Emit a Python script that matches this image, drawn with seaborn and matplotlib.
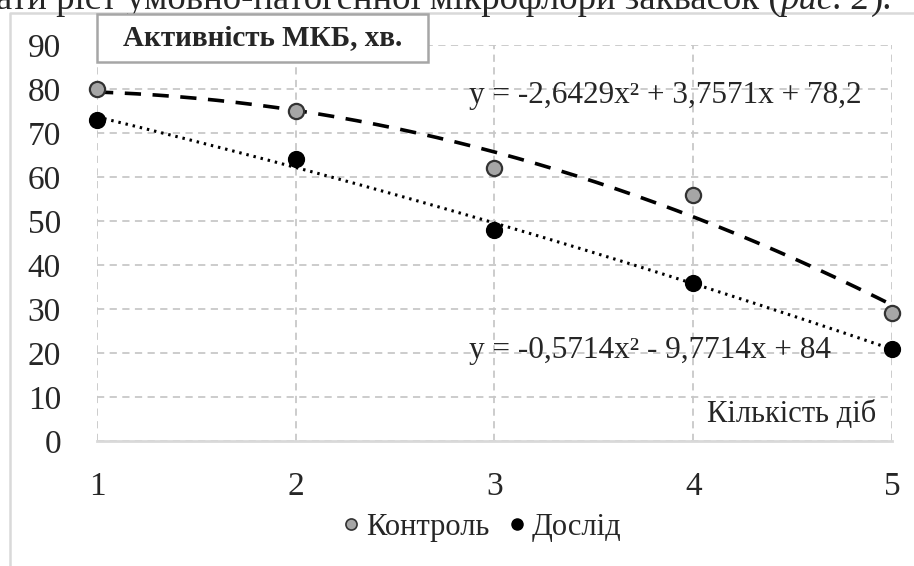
import numpy as np
import pandas as pd
import matplotlib
matplotlib.use('Agg')
import matplotlib.pyplot as plt
import seaborn as sns
from matplotlib.patches import Rectangle
from matplotlib.lines import Line2D

# Data
days = [1, 2, 3, 4, 5]
control = [80, 75, 62, 56, 29]
experiment = [73, 64, 48, 36, 21]
y_ticks = [0, 10, 20, 30, 40, 50, 60, 70, 80, 90]
series_names = ['Контроль', 'Дослід']
eq_control = 'y = -2,6429x² + 3,7571x + 78,2'
eq_experiment = 'y = -0,5714x² - 9,7714x + 84'

sns.set_theme(style='white')
plt.rcParams['font.family'] = ['Liberation Serif', 'DejaVu Serif']

W, H = 914, 566
fig = plt.figure(figsize=(W / 100, H / 100), dpi=100)
fig.patch.set_facecolor('white')

x0, x1, y0, y1 = 97, 892, 441, 45
ax = fig.add_axes([x0 / W, 1 - y0 / H, (x1 - x0) / W, (y0 - y1) / H])

df = pd.DataFrame({'day': days, 'control': control, 'experiment': experiment})

# quadratic trend lines, fitted from the data
xs = np.linspace(1, 5, 200)
fit_c = np.polyval(np.polyfit(df['day'], df['control'], 2), xs)
fit_e = np.polyval(np.polyfit(df['day'], df['experiment'], 2), xs)
sns.lineplot(x=xs, y=fit_c, ax=ax, color='black', lw=2.6, zorder=3)
ax.lines[-1].set_dashes((4.5, 3.2))
sns.lineplot(x=xs, y=fit_e, ax=ax, color='black', lw=2.2, zorder=3)
ax.lines[-1].set_dashes((0.8, 1.6))

sns.scatterplot(data=df, x='day', y='control', ax=ax, s=120, color='#a6a6a6',
                edgecolor='#333333', linewidth=1.6, zorder=5, clip_on=False)
sns.scatterplot(data=df, x='day', y='experiment', ax=ax, s=130, color='black',
                edgecolor='black', linewidth=1, zorder=5, clip_on=False)

ax.set_xlim(1, 5)
ax.set_ylim(0, 90)
ax.set_xticks(days)
ax.set_yticks(y_ticks)
ax.set_xlabel('')
ax.set_ylabel('')
ax.grid(True, color='#c8c8c8', linestyle=(0, (4, 3)), linewidth=1.3)
for s in ['top', 'right', 'left']:
    ax.spines[s].set_visible(False)
ax.spines['bottom'].set_color('#d9d9d9')
ax.spines['bottom'].set_linewidth(2)
ax.tick_params(axis='y', length=0, pad=26, labelsize=24)
ax.tick_params(axis='x', length=0, pad=22, labelsize=24)

ax.text(2.87, 78.5, eq_control, fontsize=22.5, ha='left', va='center')
ax.text(2.87, 20.5, eq_experiment, fontsize=22.5, ha='left', va='center')
ax.text(4.92, 6, 'Кількість діб', fontsize=22, ha='right', va='center')

# chart area border (left and top)
fig.add_artist(Line2D([10 / W, 10 / W, 1], [0, 1 - 13 / H, 1 - 13 / H],
                      transform=fig.transFigure, color='#d9d9d9', lw=1.8))

# title box
fig.patches.append(Rectangle((97 / W, 1 - 62 / H), (428 - 97) / W, 48 / H,
                             transform=fig.transFigure, facecolor='white',
                             edgecolor='#a6a6a6', linewidth=1.8, zorder=10))
fig.text(263 / W, 1 - 38 / H, 'Активність МКБ, хв.', fontsize=21,
         fontweight='bold', ha='center', va='center', zorder=11)

# legend
handles = [Line2D([], [], marker='o', ls='', markersize=8, markerfacecolor='#a6a6a6',
                  markeredgecolor='#333333', markeredgewidth=1.2),
           Line2D([], [], marker='o', ls='', markersize=8, markerfacecolor='black',
                  markeredgecolor='black')]
fig.legend(handles, series_names, loc='center', bbox_to_anchor=(480 / W, 1 - 527 / H),
           ncol=2, frameon=False, fontsize=22, handletextpad=0.1, columnspacing=0.5,
           handlelength=0.8)

# clipped sentence above the chart
base = 1 - 9 / H
t1 = fig.text(-4 / W, base, 'ати ріст умовно-патогенної мікрофлори заквасок (',
              fontsize=26.5, va='baseline', ha='left')
fig.canvas.draw()
bb = t1.get_window_extent()
t2 = fig.text(bb.x1 / W, base, 'рис. 2', fontsize=26.5, style='italic',
              va='baseline', ha='left')
fig.canvas.draw()
bb = t2.get_window_extent()
fig.text(bb.x1 / W, base, ').', fontsize=26.5, va='baseline', ha='left')

fig.savefig('out.png', dpi=100)
